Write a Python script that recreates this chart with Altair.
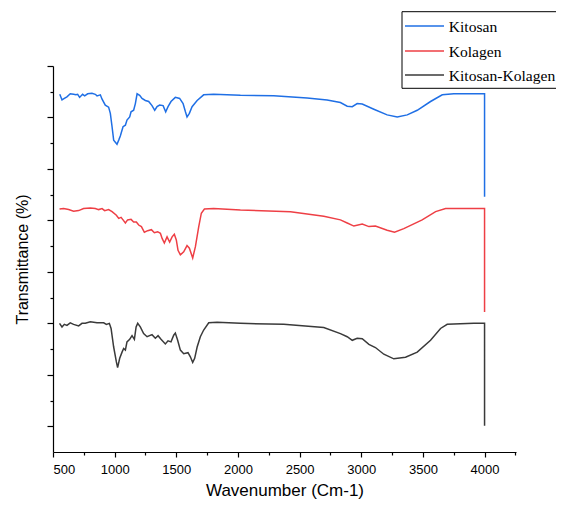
import altair as alt
import pandas as pd

names = ["Kitosan", "Kolagen", "Kitosan-Kolagen"]
colors = ["#1f6fe5", "#ee3f45", "#3a3a3a"]

kitosan_wn = [555, 573, 592, 613, 640, 667, 686, 700, 716, 740, 757, 781, 816, 843, 857,
              884, 897, 924, 951, 965, 979, 992, 1019, 1033, 1046, 1068, 1087, 1100, 1122, 1133,
              1154, 1168, 1182, 1203, 1222, 1249, 1276, 1303, 1325, 1344, 1365, 1393, 1414, 1433, 1457,
              1492, 1527, 1555, 1574, 1587, 1606, 1628, 1669, 1722, 1803, 2020, 2290, 2561, 2723, 2831,
              2886, 2927, 2967, 3008, 3102, 3210, 3292, 3373, 3454, 3562, 3657, 3751, 3913, 4000, 4000]
kitosan_t = [7.45, 7.34, 7.37, 7.40, 7.46, 7.45, 7.44, 7.45, 7.39, 7.45, 7.42, 7.46, 7.47, 7.45, 7.42,
             7.44, 7.36, 7.24, 7.20, 7.08, 6.82, 6.56, 6.48, 6.56, 6.64, 6.82, 6.85, 6.95, 7.01, 7.11,
             7.14, 7.27, 7.46, 7.43, 7.37, 7.33, 7.31, 7.23, 7.14, 7.21, 7.24, 7.23, 7.11, 7.21, 7.31,
             7.39, 7.37, 7.27, 7.11, 7.01, 7.08, 7.21, 7.33, 7.44, 7.45, 7.43, 7.42, 7.38, 7.34, 7.29,
             7.22, 7.21, 7.27, 7.26, 7.16, 7.05, 7.01, 7.05, 7.14, 7.31, 7.44, 7.46, 7.46, 7.46, 5.46]

kolagen_wn = [553, 586, 627, 667, 708, 748, 803, 843, 870, 898, 919, 951, 979, 1014, 1033,
              1052, 1068, 1087, 1105, 1133, 1154, 1176, 1195, 1217, 1241, 1268, 1298, 1322, 1349, 1371,
              1385, 1403, 1425, 1446, 1466, 1484, 1500, 1514, 1533, 1560, 1587, 1606, 1633, 1655, 1682,
              1703, 1728, 1803, 2020, 2426, 2696, 2831, 2886, 2940, 3008, 3062, 3115, 3210, 3270, 3345,
              3494, 3603, 3684, 3913, 4000, 4000]
kolagen_t = [5.22, 5.23, 5.21, 5.18, 5.19, 5.23, 5.24, 5.23, 5.21, 5.23, 5.19, 5.21, 5.17, 5.10, 5.04,
             5.06, 5.01, 4.95, 5.01, 5.02, 4.97, 4.97, 4.91, 4.88, 4.77, 4.80, 4.82, 4.76, 4.78, 4.75,
             4.65, 4.56, 4.68, 4.58, 4.68, 4.73, 4.62, 4.42, 4.33, 4.39, 4.51, 4.46, 4.27, 4.49, 4.88,
             5.14, 5.22, 5.23, 5.20, 5.17, 5.08, 5.01, 4.95, 4.89, 4.93, 4.88, 4.89, 4.81, 4.77, 4.84,
             5.01, 5.17, 5.23, 5.23, 5.23, 3.22]

kk_wn = [553, 573, 592, 613, 640, 667, 708, 735, 762, 803, 857, 911, 933, 957, 971,
         992, 1014, 1024, 1041, 1060, 1073, 1087, 1100, 1122, 1141, 1160, 1174, 1187, 1208, 1235,
         1263, 1303, 1330, 1352, 1376, 1411, 1433, 1457, 1479, 1492, 1511, 1533, 1560, 1595, 1614,
         1633, 1649, 1669, 1695, 1722, 1763, 1831, 2020, 2371, 2696, 2831, 2886, 2927, 2967, 3008,
         3062, 3115, 3183, 3264, 3359, 3454, 3562, 3643, 3697, 3913, 4000, 4000]
kk_t = [3.00, 2.93, 2.98, 2.96, 3.01, 2.98, 2.95, 3.00, 3.00, 3.03, 3.01, 3.01, 2.98, 3.00, 2.90,
        2.54, 2.25, 2.14, 2.32, 2.44, 2.51, 2.48, 2.64, 2.69, 2.76, 2.69, 2.93, 3.00, 2.93, 2.80,
        2.74, 2.78, 2.71, 2.76, 2.69, 2.60, 2.66, 2.64, 2.77, 2.81, 2.67, 2.48, 2.41, 2.43, 2.35,
        2.24, 2.32, 2.54, 2.74, 2.87, 3.01, 3.02, 3.00, 2.98, 2.92, 2.80, 2.74, 2.67, 2.71, 2.70,
        2.59, 2.53, 2.40, 2.31, 2.34, 2.44, 2.67, 2.90, 2.98, 3.00, 3.00, 1.01]

x_ticks = [500, 750, 1000, 1250, 1500, 1750, 2000, 2250, 2500, 2750, 3000, 3250, 3500, 3750, 4000, 4250]
y_ticks = [1, 1.5, 2, 2.5, 3, 3.5, 4, 4.5, 5, 5.5, 6, 6.5, 7, 7.5, 8]

rows = []
for name, wns, ts in [(names[0], kitosan_wn, kitosan_t),
                      (names[1], kolagen_wn, kolagen_t),
                      (names[2], kk_wn, kk_t)]:
    for i, (w, t) in enumerate(zip(wns, ts)):
        rows.append({"series": name, "wn": w, "t": t, "i": i})
df = pd.DataFrame(rows)

lines = alt.Chart(df).mark_line(strokeWidth=1.5).encode(
    x=alt.X("wn:Q",
            scale=alt.Scale(domain=[500, 4255], nice=False, zero=False),
            axis=alt.Axis(values=x_ticks, format="d",
                          labelExpr="datum.value % 500 === 0 ? datum.label : ''",
                          tickSize={"condition": {"test": "datum.value % 500 === 0", "value": 5}, "value": 3},
                          grid=False, title="Wavenumber (Cm-1)",
                          labelFontSize=13, titleFontSize=17, labelPadding=6, titlePadding=6)),
    y=alt.Y("t:Q",
            scale=alt.Scale(domain=[0.5, 8], nice=False, zero=False),
            axis=alt.Axis(values=y_ticks, labels=False,
                          tickSize={"condition": {"test": "datum.value % 1 === 0", "value": 6}, "value": 3},
                          grid=False, title="Transmittance (%)",
                          titleFontSize=16, titlePadding=16)),
    color=alt.Color("series:N", scale=alt.Scale(domain=names, range=colors), legend=None),
    order="i:Q",
)

# manual legend box (Origin-style)
one = alt.Data(values=[{}])
legend_box = alt.Chart(one).mark_rect(fill="white", stroke="black", strokeWidth=1).encode(
    x=alt.value(349), x2=alt.value(510), y=alt.value(-54.3), y2=alt.value(22.3))

legend_rows = [-40.0, -15.0, 9.0]
legend_layers = [legend_box]
for name, col, yy in zip(names, colors, legend_rows):
    legend_layers.append(
        alt.Chart(one).mark_rule(strokeWidth=1.5, color=col).encode(
            x=alt.value(352), x2=alt.value(391), y=alt.value(yy)))
    legend_layers.append(
        alt.Chart(one).mark_text(align="left", baseline="middle", font="Liberation Serif",
                                 fontSize=15.6, color="black", text=name).encode(
            x=alt.value(395.7), y=alt.value(yy + 0.5)))

chart = alt.layer(lines, *legend_layers).properties(
    width=463, height=386,
    padding={"left": 45, "top": 58, "right": 40, "bottom": 48},
    autosize=alt.AutoSizeParams(type="none"),
).configure_view(stroke=None).configure_axis(
    domainColor="black", tickColor="black", labelColor="black", titleColor="black",
    labelFont="Liberation Sans", titleFont="Liberation Sans", titleFontWeight="normal",
    domainWidth=1.2, tickWidth=1.2,
)

chart.save("out.html", embed_options={"renderer": "svg", "actions": False})
